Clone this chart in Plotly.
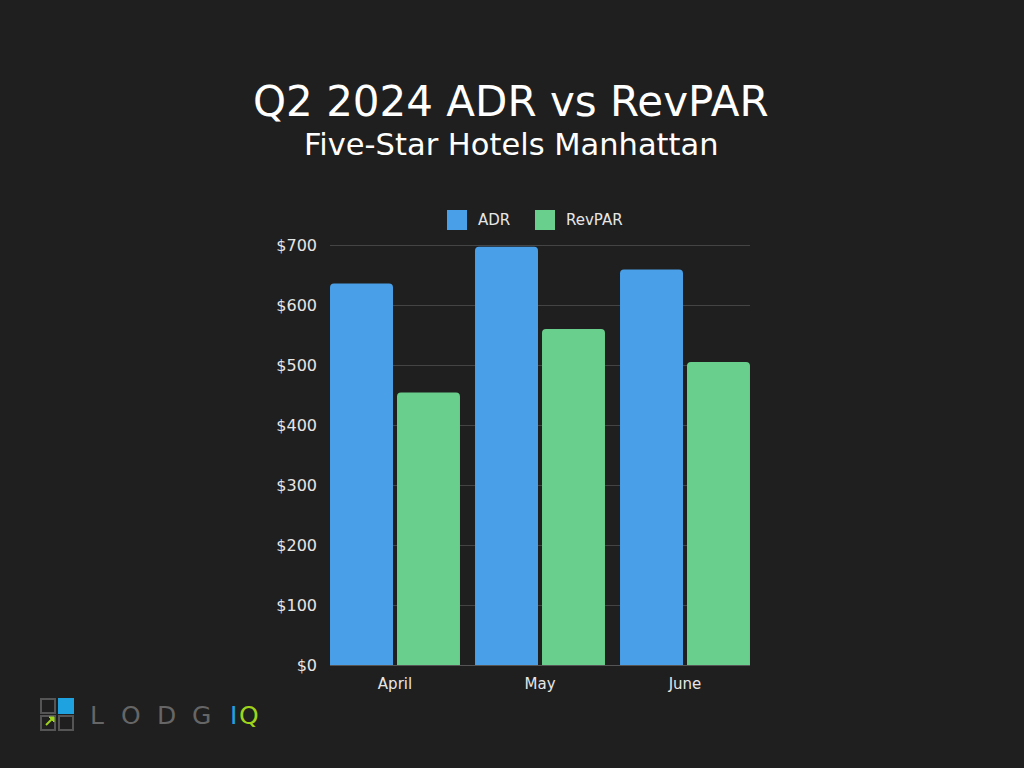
import plotly.graph_objects as go

months = ["April", "May", "June"]
adr = [636, 697, 659]
revpar = [454, 560, 505]
series_names = ["ADR", "RevPAR"]
ytick_vals = [0, 100, 200, 300, 400, 500, 600, 700]
ytick_text = ["$0", "$100", "$200", "$300", "$400", "$500", "$600", "$700"]

BG = "#1f1f1f"
BLUE = "#4aa0e8"
GREEN = "#69cf8c"
FONT = "DejaVu Sans"

W, H = 1024, 768
YMAX = 705
L, R, B = 330, 750, 665
T = B - 420 * YMAX / 700


def px(x):
    return (x - L) / (R - L)


def py(y):
    return (B - y) / (B - T)


xpos = list(range(len(months)))

fig = go.Figure()
fig.add_trace(go.Bar(x=xpos, y=adr, name=series_names[0], marker=dict(color=BLUE, cornerradius=4, line=dict(width=0))))
fig.add_trace(go.Bar(x=xpos, y=revpar, name=series_names[1], marker=dict(color=GREEN, cornerradius=4, line=dict(width=0))))

half = 0.4483
fig.update_layout(
    width=W, height=H,
    paper_bgcolor=BG, plot_bgcolor=BG,
    margin=dict(l=L, r=W - R, t=T, b=H - B, pad=0),
    barmode="group", bargap=0.076, bargroupgap=0.06,
    font=dict(family=FONT, color="#e6e6e6", size=14),
    showlegend=False,
    xaxis=dict(tickmode="array", tickvals=xpos, ticktext=months, range=[-half, len(months) - 1 + half],
               showgrid=False, zeroline=False, showline=True, linecolor="#555", linewidth=1,
               ticks="outside", ticklen=5, tickcolor=BG, tickfont=dict(size=15, color="#e6e6e6"), fixedrange=True),
    yaxis=dict(tickmode="array", tickvals=ytick_vals, ticktext=ytick_text, range=[0, YMAX],
               showgrid=True, gridcolor="#444444", gridwidth=1, zeroline=False, showline=False,
               ticks="", ticklabelstandoff=12, tickfont=dict(size=16, color="#e6e6e6"), fixedrange=True),
)

ann = [
    dict(text="Q2 2024 ADR vs RevPAR", x=px(511), xref="paper", y=py(101), yref="paper",
         xanchor="center", yanchor="middle", showarrow=False, font=dict(size=42, color="#ffffff", family=FONT)),
    dict(text="Five-Star Hotels Manhattan", x=px(511), xref="paper", y=py(144), yref="paper",
         xanchor="center", yanchor="middle", showarrow=False, font=dict(size=30.5, color="#ffffff", family=FONT)),
]
shapes = []
# legend (manual, square swatches)
for name, col, sx in [(series_names[0], BLUE, 447), (series_names[1], GREEN, 535)]:
    shapes.append(dict(type="rect", xref="paper", yref="paper", x0=px(sx), x1=px(sx + 20), y0=py(210), y1=py(230),
                       fillcolor=col, line=dict(width=0)))
    ann.append(dict(text=name, x=px(sx + 29), xref="paper", y=py(220), yref="paper", xanchor="left", yanchor="middle",
                    showarrow=False, font=dict(size=15, color="#e6e6e6", family=FONT)))
# logo
letters = [("L", 97, "#666666"), ("O", 131, "#666666"), ("D", 166, "#666666"), ("G", 201, "#666666"),
           ("I", 233, "#1fa3e0"), ("Q", 249, "#9ed41c")]
for ch, x, c in letters:
    ann.append(dict(text=ch, x=px(x), xref="paper", y=py(715), yref="paper", xanchor="center", yanchor="middle",
                    showarrow=False, font=dict(size=25, color=c, family="DejaVu Sans")))
fig.update_layout(annotations=ann)

for (x0, y0, fill) in [(41, 699, None), (59, 699, "#1fa3e0"), (41, 716, None), (59, 716, None)]:
    shapes.append(dict(type="rect", xref="paper", yref="paper", x0=px(x0), x1=px(x0 + 14), y0=py(y0), y1=py(y0 + 14),
                       line=dict(color="#555555" if fill is None else fill, width=2),
                       fillcolor=fill if fill else "rgba(0,0,0,0)"))
shapes.append(dict(type="line", xref="paper", yref="paper", x0=px(46), y0=py(725), x1=px(53), y1=py(718),
                   line=dict(color="#9ed41c", width=2)))
shapes.append(dict(type="path", xref="paper", yref="paper",
                   path=f"M {px(49)} {py(717)} L {px(54)} {py(717)} L {px(54)} {py(722)} Z",
                   fillcolor="#9ed41c", line=dict(color="#9ed41c", width=1)))
fig.update_layout(shapes=shapes)

fig.write_html("out.html")
